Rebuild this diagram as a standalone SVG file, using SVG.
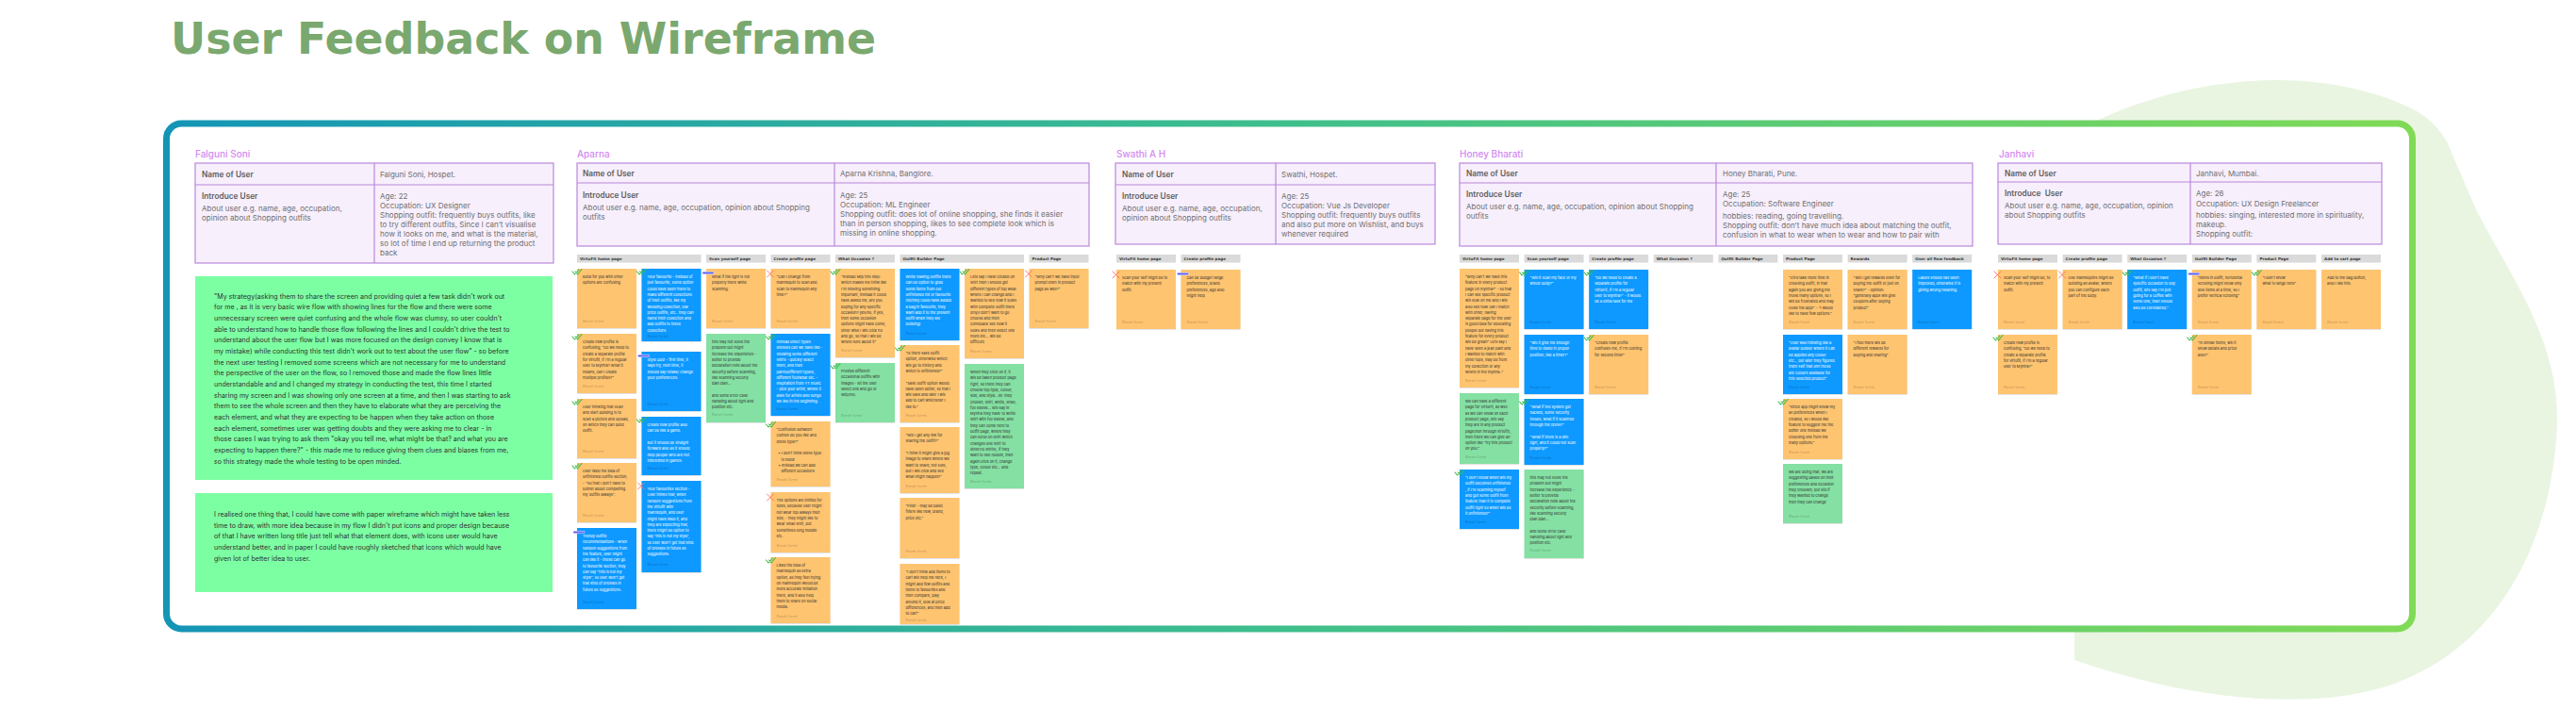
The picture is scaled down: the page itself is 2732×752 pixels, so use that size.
<svg xmlns="http://www.w3.org/2000/svg" xmlns:xlink="http://www.w3.org/1999/xlink" width="2732" height="752" viewBox="0 0 2732 752">
<defs>
<linearGradient id="fg" x1="0" y1="0" x2="1" y2="0">
<stop offset="0" stop-color="#1495b6"/>
<stop offset="0.5" stop-color="#3fbf8c"/>
<stop offset="1" stop-color="#80da56"/>
</linearGradient>
<filter id="sh" x="-10%" y="-10%" width="120%" height="120%">
<feDropShadow dx="0" dy="0.6" stdDeviation="0.7" flood-color="#000" flood-opacity="0.18"/>
</filter>
<g id="ck"><path d="M-5 3 L-2.5 6 L2 1 M-2 3 L0.5 6 L5 0.5" fill="none" stroke="#38b94a" stroke-width="1.1" stroke-linecap="round" stroke-linejoin="round"/></g>
<g id="xx"><path d="M-4 2 L3 9 M3 2 L-4 9" fill="none" stroke="#ff6a5c" stroke-width="0.9" stroke-linecap="round"/></g>
<g id="ds"><path d="M-3 4.5 L7 4.5" stroke="#cbc6ff" stroke-width="2.8" stroke-linecap="round"/><path d="M-3 4.5 L7 4.5" stroke="#5a62f0" stroke-width="1.5" stroke-linecap="round"/></g>
</defs>
<style>
.ttl{font-family:"DejaVu Sans","Liberation Sans",sans-serif;font-weight:bold;font-size:46px;fill:#7aa86e}
.lb{font-family:Inter,"Liberation Sans",sans-serif;font-size:10px;font-weight:500;fill:#d38af0}
.tbl{fill:#f7effc;stroke:#b987da;stroke-width:1.2}
.dv{stroke:#b987da;stroke-width:1.2}
.tb{font-family:Inter,"Liberation Sans",sans-serif;font-size:8px;fill:#707070}
.th{font-family:Inter,"Liberation Sans",sans-serif;font-size:8.3px;font-weight:600;fill:#5e5e5e}
.hb{fill:#dadada}
.ht{font-family:"DejaVu Sans","Liberation Sans",sans-serif;font-size:4.1px;font-weight:bold;fill:#3a3a3a}
.o{fill:#ffc470;filter:url(#sh)}
.g{fill:#85e0a3;filter:url(#sh)}
.b{fill:#0d99ff;filter:url(#sh)}
.t{font-family:Inter,"Liberation Sans",sans-serif;font-size:3.9px;fill:#2d2d2d}
.w{fill:#ffffff}
.a{font-family:Inter,"Liberation Sans",sans-serif;font-size:3.1px;fill:#000;fill-opacity:0.32}
.gn{fill:#7cffa3}
.gt{font-family:Inter,"Liberation Sans",sans-serif;font-size:7.1px;fill:#2f2f2f}
</style>

<rect width="2732" height="752" fill="#ffffff"/>
<path id="blob" d="M2200 140 C2280 95 2400 70 2500 95 C2560 110 2580 125 2595 150 L2625 220 C2660 290 2715 360 2712 450 C2708 560 2660 680 2540 725 C2440 760 2300 735 2200 700 Z" fill="#e9f5e1"/>

<text class="ttl" x="181" y="57" textLength="748" lengthAdjust="spacingAndGlyphs">User Feedback on Wireframe</text>

<rect id="frame" x="176.5" y="131" width="2382" height="536" rx="16" fill="#ffffff" stroke="url(#fg)" stroke-width="7"/>

<g id="connectors"></g>

<!-- ===== Falguni Soni ===== -->
<g id="falguni">
<text class="lb" x="207" y="166.5">Falguni Soni</text>
<rect class="tbl" x="207" y="173" width="380" height="106"/>
<line class="dv" x1="207" y1="196" x2="587" y2="196"/>
<line class="dv" x1="397" y1="173" x2="397" y2="279"/>
<text class="th" x="214" y="188">Name of User</text>
<text class="tb" x="403" y="188">Falguni Soni, Hospet.</text>
<text class="th" x="214" y="211">Introduce User</text>
<text class="tb" x="214" y="224">About user e.g. name, age, occupation,</text>
<text class="tb" x="214" y="234">opinion about Shopping outfits</text>
<text class="tb"><tspan x="403" y="211">Age: 22</tspan><tspan x="403" dy="10">Occupation: UX Designer</tspan><tspan x="403" dy="10">Shopping outfit: frequently buys outfits, like</tspan><tspan x="403" dy="10">to try different outfits, Since I can’t visualise</tspan><tspan x="403" dy="10">how it looks on me, and what is the material,</tspan><tspan x="403" dy="10">so lot of time I end up returning the product</tspan><tspan x="403" dy="10">back</tspan></text>
</g>
<g id="falguni-note1">
<rect class="gn" x="207" y="293" width="379" height="216"/>
<text class="gt"><tspan x="227" y="316.5">"My strategy(asking them to share the screen and providing quiet a few task didn't work out</tspan><tspan x="227" dy="11.67">for me , as it is very basic wire flow with showing lines for the flow and there were some</tspan><tspan x="227" dy="11.67">unnecessary screen were quiet confusing and the whole flow was clumsy, so user couldn't</tspan><tspan x="227" dy="11.67">able to understand how to handle those flow following the lines and I couldn't drive the test to</tspan><tspan x="227" dy="11.67">understand about the user flow but I was more focused on the design convey I know that is</tspan><tspan x="227" dy="11.67">my mistake) while conducting this test didn't work out to test about the user flow" - so before</tspan><tspan x="227" dy="11.67">the next user testing I removed some screens which are not necessary for me to understand</tspan><tspan x="227" dy="11.67">the perspective of the user on the flow, so I removed those and made the flow lines little</tspan><tspan x="227" dy="11.67">understandable and and I changed my strategy in conducting the test, this time I started</tspan><tspan x="227" dy="11.67">sharing my screen and I was showing only one screen at a time, and then I was starting to ask</tspan><tspan x="227" dy="11.67">them to see the whole screen and then they have to elaborate what they are perceiving the</tspan><tspan x="227" dy="11.67">each element, and what they are expecting to be happen when they take action on those</tspan><tspan x="227" dy="11.67">each element, sometimes user was getting doubts and they were asking me to clear - in</tspan><tspan x="227" dy="11.67">those cases I was trying to ask them "okay you tell me, what might be that? and what you are</tspan><tspan x="227" dy="11.67">expecting to happen there?" - this made me to reduce giving them clues and biases from me,</tspan><tspan x="227" dy="11.67">so this strategy made the whole testing to be open minded.</tspan></text>
</g>
<g id="falguni-note2">
<rect class="gn" x="207" y="523" width="379" height="105"/>
<text class="gt"><tspan x="227" y="548">I realised one thing that, I could have come with paper wireframe which might have taken less</tspan><tspan x="227" dy="11.67">time to draw, with more idea because in my flow I didn't put icons and proper design because</tspan><tspan x="227" dy="11.67">of that I have written long title just tell what that element does, with icons user would have</tspan><tspan x="227" dy="11.67">understand better, and in paper I could have roughly sketched that icons which would have</tspan><tspan x="227" dy="11.67">given lot of better idea to user.</tspan></text>
</g>

<!-- ===== Aparna ===== -->
<g id="aparna">
<text class="lb" x="612" y="166.5">Aparna</text>
<rect class="tbl" x="612" y="173" width="543" height="88"/>
<line class="dv" x1="612" y1="194" x2="1155" y2="194"/>
<line class="dv" x1="885" y1="173" x2="885" y2="261"/>
<text class="th" x="618" y="187">Name of User</text>
<text class="tb" x="891" y="187">Aparna Krishna, Banglore.</text>
<text class="th" x="618" y="210">Introduce User</text>
<text class="tb" x="618" y="223">About user e.g. name, age, occupation, opinion about Shopping</text>
<text class="tb" x="618" y="233">outfits</text>
<text class="tb"><tspan x="891" y="210">Age: 25</tspan><tspan x="891" dy="10">Occupation: ML Engineer</tspan><tspan x="891" dy="10">Shopping outfit: does lot of online shopping, she finds it easier</tspan><tspan x="891" dy="10">than in person shopping, likes to see complete look which is</tspan><tspan x="891" dy="10">missing in online shopping.</tspan></text>
</g>
<g id="aparna-headers">
<rect class="hb" x="612" y="270" width="131.5" height="8.5"/><text class="ht" x="615" y="276">VirtuFit home page</text>
<rect class="hb" x="749" y="270" width="63" height="8.5"/><text class="ht" x="752" y="276">Scan yourself page</text>
<rect class="hb" x="817.5" y="270" width="63" height="8.5"/><text class="ht" x="820.5" y="276">Create profile page</text>
<rect class="hb" x="886" y="270" width="63" height="8.5"/><text class="ht" x="889" y="276">What Occasion ?</text>
<rect class="hb" x="954.5" y="270" width="131.5" height="8.5"/><text class="ht" x="957.5" y="276">Outfit Builder Page</text>
<rect class="hb" x="1091.5" y="270" width="63" height="8.5"/><text class="ht" x="1094.5" y="276">Product Page</text>
</g>

<g id="ap-1" transform="translate(612,285)"><rect class="o" width="63" height="63"/><text class="t"><tspan x="6" y="10">Build for you with other</tspan><tspan x="6" dy="6.3">options are confusing</tspan></text><text class="a" x="6" y="57">Bharath Suresh</text><use href="#ck"/></g>
<g id="ap-2" transform="translate(612,354)"><rect class="o" width="63" height="63"/><text class="t"><tspan x="6" y="10">Create new profile is</tspan><tspan x="6" dy="6.3">confusing, "Do we need to</tspan><tspan x="6" dy="6.3">create a separate profile</tspan><tspan x="6" dy="6.3">for virtufit, If I'm a regular</tspan><tspan x="6" dy="6.3">user to Myntra? What it</tspan><tspan x="6" dy="6.3">means, can I create</tspan><tspan x="6" dy="6.3">multiple profiles?"</tspan></text><text class="a" x="6" y="57">Bharath Suresh</text><use href="#ck"/></g>
<g id="ap-3" transform="translate(612,423)"><rect class="o" width="63" height="63"/><text class="t"><tspan x="6" y="10">User thinking that Scan</tspan><tspan x="6" dy="6.3">and start building is to</tspan><tspan x="6" dy="6.3">scan a picture and upload,</tspan><tspan x="6" dy="6.3">on which they can build</tspan><tspan x="6" dy="6.3">outfit.</tspan></text><text class="a" x="6" y="57">Bharath Suresh</text><use href="#ck"/></g>
<g id="ap-4" transform="translate(612,491)"><rect class="o" width="63" height="63"/><text class="t"><tspan x="6" y="10">User liked the idea of</tspan><tspan x="6" dy="6.3">unfinished outfits section,</tspan><tspan x="6" dy="6.3">- "So that I don't have to</tspan><tspan x="6" dy="6.3">bother about completing</tspan><tspan x="6" dy="6.3">my outfits always".</tspan></text><text class="a" x="6" y="57">Bharath Suresh</text><use href="#ck"/></g>
<g id="ap-5" transform="translate(612,560)"><rect class="b" width="63" height="86"/><text class="t w"><tspan x="6" y="10">Trendy outfits</tspan><tspan x="6" dy="6.3">recommendations - when</tspan><tspan x="6" dy="6.3">random suggestions from</tspan><tspan x="6" dy="6.3">the feature, user might</tspan><tspan x="6" dy="6.3">can like it - these can go</tspan><tspan x="6" dy="6.3">to favourite section, they</tspan><tspan x="6" dy="6.3">can say "this is not my</tspan><tspan x="6" dy="6.3">style", so user won't get</tspan><tspan x="6" dy="6.3">that kind of dresses in</tspan><tspan x="6" dy="6.3">future as suggestions.</tspan></text><text class="a" x="6" y="80">Bharath Suresh</text><use href="#ds"/></g>

<g id="ap-6" transform="translate(680.5,285)"><rect class="b" width="63" height="77"/><text class="t w"><tspan x="6" y="10">Your favourite - instead of</tspan><tspan x="6" dy="6.3">just favourite, some option</tspan><tspan x="6" dy="6.3">could have been there to</tspan><tspan x="6" dy="6.3">make different collections</tspan><tspan x="6" dy="6.3">of their outfits, like my</tspan><tspan x="6" dy="6.3">wedding collection, low</tspan><tspan x="6" dy="6.3">price outfits, etc.. they can</tspan><tspan x="6" dy="6.3">name their collection and</tspan><tspan x="6" dy="6.3">add outfits to these</tspan><tspan x="6" dy="6.3">collections</tspan></text><text class="a" x="6" y="73">Bharath Suresh</text><use href="#ck"/></g>
<g id="ap-7" transform="translate(680.5,373)"><rect class="b" width="63" height="63"/><text class="t w"><tspan x="6" y="10">Style Quiz - first time, it</tspan><tspan x="6" dy="6.3">says try, next time, it</tspan><tspan x="6" dy="6.3">should say retake/ change</tspan><tspan x="6" dy="6.3">your preferences.</tspan></text><text class="a" x="6" y="57">Bharath Suresh</text><use href="#ds"/></g>
<g id="ap-8" transform="translate(680.5,442)"><rect class="b" width="63" height="62"/><text class="t w"><tspan x="6" y="10">Create new profile also</tspan><tspan x="6" dy="6.3">can be like a game.</tspan><tspan x="6" dy="12.6">But it should be straight</tspan><tspan x="6" dy="6.3">forward also as it should</tspan><tspan x="6" dy="6.3">help people who are not</tspan><tspan x="6" dy="6.3">interested in games.</tspan></text><text class="a" x="6" y="56">Bharath Suresh</text><use href="#ck"/></g>
<g id="ap-9" transform="translate(680.5,510)"><rect class="b" width="63" height="97"/><text class="t w"><tspan x="6" y="10">Your favourites section -</tspan><tspan x="6" dy="6.3">User thinks that, when</tspan><tspan x="6" dy="6.3">random suggestions from</tspan><tspan x="6" dy="6.3">the virtufit with</tspan><tspan x="6" dy="6.3">mannequin, and user</tspan><tspan x="6" dy="6.3">might have liked it, and</tspan><tspan x="6" dy="6.3">they are expecting that,</tspan><tspan x="6" dy="6.3">there might be option to</tspan><tspan x="6" dy="6.3">say 'this is not my style',</tspan><tspan x="6" dy="6.3">so user won't get that kind</tspan><tspan x="6" dy="6.3">of dresses in future as</tspan><tspan x="6" dy="6.3">suggestions.</tspan></text><text class="a" x="6" y="90">Bharath Suresh</text><use href="#xx"/></g>

<g id="ap-10" transform="translate(749,285)"><rect class="o" width="63" height="63"/><text class="t"><tspan x="6" y="10">What if the light is not</tspan><tspan x="6" dy="6.3">properly there while</tspan><tspan x="6" dy="6.3">scanning.</tspan></text><text class="a" x="6" y="57">Bharath Suresh</text><use href="#ds"/></g>
<g id="ap-11" transform="translate(749,354)"><rect class="g" width="63" height="94"/><text class="t"><tspan x="6" y="10">this may not solve the</tspan><tspan x="6" dy="6.3">problem but might</tspan><tspan x="6" dy="6.3">increase the experience -</tspan><tspan x="6" dy="6.3">Better to provide</tspan><tspan x="6" dy="6.3">declaration note about the</tspan><tspan x="6" dy="6.3">security before scanning,</tspan><tspan x="6" dy="6.3">like scanning securly</tspan><tspan x="6" dy="6.3">bian bian...</tspan><tspan x="6" dy="12.6">and some error case</tspan><tspan x="6" dy="6.3">handling about light and</tspan><tspan x="6" dy="6.3">position etc.</tspan></text><text class="a" x="6" y="87">Bharath Suresh</text></g>

<g id="ap-12" transform="translate(817.5,285)"><rect class="o" width="63" height="63"/><text class="t"><tspan x="6" y="10">"Can I change from</tspan><tspan x="6" dy="6.3">mannequin to scan and</tspan><tspan x="6" dy="6.3">scan to mannequin any</tspan><tspan x="6" dy="6.3">time?"</tspan></text><text class="a" x="6" y="57">Bharath Suresh</text><use href="#xx"/></g>
<g id="ap-13" transform="translate(817.5,354)"><rect class="b" width="63" height="87"/><text class="t w"><tspan x="6" y="10">Instead direct types</tspan><tspan x="6" dy="6.3">dresses can we have like -</tspan><tspan x="6" dy="6.3">showing some different</tspan><tspan x="6" dy="6.3">shirts - quickly select</tspan><tspan x="6" dy="6.3">them, and then</tspan><tspan x="6" dy="6.3">pants(different types),</tspan><tspan x="6" dy="6.3">different footwear etc. -</tspan><tspan x="6" dy="6.3">Inspiration from YT music</tspan><tspan x="6" dy="6.3">- pick your artist, where it</tspan><tspan x="6" dy="6.3">asks for artists and songs</tspan><tspan x="6" dy="6.3">we like in the beginning.</tspan></text><text class="a" x="6" y="81">Bharath Suresh</text><use href="#ck"/></g>
<g id="ap-14" transform="translate(817.5,447)"><rect class="o" width="63" height="69"/><text class="t"><tspan x="6" y="10">"Confusion between</tspan><tspan x="6" dy="6.3">clothes do you like and</tspan><tspan x="6" dy="6.3">dress type?"</tspan><tspan x="8" dy="12.6">•  I don't think dress type</tspan><tspan x="11" dy="6.3">is need!</tspan><tspan x="8" dy="6.3">•  Instead we can add</tspan><tspan x="11" dy="6.3">different occasions</tspan></text><text class="a" x="6" y="63">Bharath Suresh</text><use href="#ck"/></g>
<g id="ap-15" transform="translate(817.5,522)"><rect class="o" width="63" height="64"/><text class="t"><tspan x="6" y="10">The options are limited for</tspan><tspan x="6" dy="6.3">sizes, because user might</tspan><tspan x="6" dy="6.3">not wear top always their</tspan><tspan x="6" dy="6.3">size, - they might like to</tspan><tspan x="6" dy="6.3">wear small shirt, but</tspan><tspan x="6" dy="6.3">sometimes long hoddie</tspan><tspan x="6" dy="6.3">etc.</tspan></text><text class="a" x="6" y="58">Bharath Suresh</text><use href="#xx"/></g>
<g id="ap-16" transform="translate(817.5,591)"><rect class="o" width="63" height="70"/><text class="t"><tspan x="6" y="10">Liked the idea of</tspan><tspan x="6" dy="6.3">mannequin as extra</tspan><tspan x="6" dy="6.3">option, as they feel trying</tspan><tspan x="6" dy="6.3">on mannequin would be</tspan><tspan x="6" dy="6.3">more accurate imitation</tspan><tspan x="6" dy="6.3">there, and it also help</tspan><tspan x="6" dy="6.3">them to share on social</tspan><tspan x="6" dy="6.3">media.</tspan></text><text class="a" x="6" y="64">Bharath Suresh</text><use href="#ck"/></g>

<g id="ap-17" transform="translate(886,285)"><rect class="o" width="63" height="94"/><text class="t"><tspan x="6" y="10">"Instead skip this step-</tspan><tspan x="6" dy="6.3">which makes me think like</tspan><tspan x="6" dy="6.3">I'm missing something</tspan><tspan x="6" dy="6.3">important, instead it could</tspan><tspan x="6" dy="6.3">have asked me, are you</tspan><tspan x="6" dy="6.3">buying for any specific</tspan><tspan x="6" dy="6.3">occasion? yes/no, if yes,</tspan><tspan x="6" dy="6.3">then some occasion</tspan><tspan x="6" dy="6.3">options might have come,</tspan><tspan x="6" dy="6.3">other wise I will click no</tspan><tspan x="6" dy="6.3">and go, so that I will be</tspan><tspan x="6" dy="6.3">where sure about it"</tspan></text><text class="a" x="6" y="88">Bharath Suresh</text><use href="#ck"/></g>
<g id="ap-18" transform="translate(886,385)"><rect class="g" width="63" height="63"/><text class="t"><tspan x="6" y="10">Provide different</tspan><tspan x="6" dy="6.3">occasional outfits with</tspan><tspan x="6" dy="6.3">images - let the user</tspan><tspan x="6" dy="6.3">select one and go or</tspan><tspan x="6" dy="6.3">skip(no).</tspan></text><text class="a" x="6" y="57">Bharath Suresh</text><use href="#ck"/></g>

<g id="ap-19" transform="translate(954.5,285)"><rect class="b" width="63" height="76"/><text class="t w"><tspan x="6" y="10">While making outfits there</tspan><tspan x="6" dy="6.3">can be option to grab</tspan><tspan x="6" dy="6.3">some items from our</tspan><tspan x="6" dy="6.3">unfinished list or favourite</tspan><tspan x="6" dy="6.3">list(they could have added</tspan><tspan x="6" dy="6.3">a bag in favourite, they</tspan><tspan x="6" dy="6.3">want add it to the present</tspan><tspan x="6" dy="6.3">outfit when they are</tspan><tspan x="6" dy="6.3">building)</tspan></text><text class="a" x="6" y="70">Bharath Suresh</text></g>
<g id="ap-20" transform="translate(954.5,366)"><rect class="o" width="63" height="82"/><text class="t"><tspan x="6" y="10">"Is there save outfit</tspan><tspan x="6" dy="6.3">option, otherwise which</tspan><tspan x="6" dy="6.3">will go to history and</tspan><tspan x="6" dy="6.3">which is unfinished?"</tspan><tspan x="6" dy="12.6">"Save outfit option would</tspan><tspan x="6" dy="6.3">have been better, so that I</tspan><tspan x="6" dy="6.3">will save and later I will</tspan><tspan x="6" dy="6.3">add to cart whichever I</tspan><tspan x="6" dy="6.3">like to."</tspan></text><text class="a" x="6" y="76">Bharath Suresh</text><use href="#ck"/></g>
<g id="ap-21" transform="translate(954.5,453)"><rect class="o" width="63" height="70"/><text class="t"><tspan x="6" y="10">"Will I get any link for</tspan><tspan x="6" dy="6.3">sharing the outfit?"</tspan><tspan x="6" dy="12.6">"I think it might give a jpg</tspan><tspan x="6" dy="6.3">image to share where we</tspan><tspan x="6" dy="6.3">want to share, not sure,</tspan><tspan x="6" dy="6.3">but I will click and see</tspan><tspan x="6" dy="6.3">what might happen!"</tspan></text><text class="a" x="6" y="64">Bharath Suresh</text></g>
<g id="ap-22" transform="translate(954.5,528)"><rect class="o" width="63" height="64"/><text class="t"><tspan x="6" y="10">"Filter - may be basic</tspan><tspan x="6" dy="6.3">filters like new, brand,</tspan><tspan x="6" dy="6.3">price etc."</tspan></text><text class="a" x="6" y="58">Bharath Suresh</text></g>
<g id="ap-23" transform="translate(954.5,598)"><rect class="o" width="63" height="64"/><text class="t"><tspan x="6" y="10">"I don't think add items to</tspan><tspan x="6" dy="6.3">cart will help me here, I</tspan><tspan x="6" dy="6.3">might add few outfits and</tspan><tspan x="6" dy="6.3">items to favourites and</tspan><tspan x="6" dy="6.3">then compare, play</tspan><tspan x="6" dy="6.3">around it, look at price</tspan><tspan x="6" dy="6.3">differences, and then add</tspan><tspan x="6" dy="6.3">to cart"</tspan></text><text class="a" x="6" y="60.5">Bharath Suresh</text></g>

<g id="ap-24" transform="translate(1023,285)"><rect class="o" width="63" height="95"/><text class="t"><tspan x="6" y="10">Lets say I have clicked on</tspan><tspan x="6" dy="6.3">shirt then I should get</tspan><tspan x="6" dy="6.3">different types of top wear</tspan><tspan x="6" dy="6.3">where I can change and I</tspan><tspan x="6" dy="6.3">wanted to see how it looks</tspan><tspan x="6" dy="6.3">with complete outfit there</tspan><tspan x="6" dy="6.3">only(I don't want to go</tspan><tspan x="6" dy="6.3">choose and then</tspan><tspan x="6" dy="6.3">comeback see how it</tspan><tspan x="6" dy="6.3">looks and then select one</tspan><tspan x="6" dy="6.3">more etc... will be</tspan><tspan x="6" dy="6.3">difficult)</tspan></text><text class="a" x="6" y="89">Bharath Suresh</text><use href="#ck"/></g>
<g id="ap-25" transform="translate(1023,386)"><rect class="g" width="63" height="132"/><text class="t"><tspan x="6" y="10">When they click on it, it</tspan><tspan x="6" dy="6.3">will be taken product page</tspan><tspan x="6" dy="6.3">right, so there they can</tspan><tspan x="6" dy="6.3">choose top type, colour,</tspan><tspan x="6" dy="6.3">size, and style.. ex: they</tspan><tspan x="6" dy="6.3">chosen, shirt, white, small,</tspan><tspan x="6" dy="6.3">full sleeve... lets say in</tspan><tspan x="6" dy="6.3">Myntra they have 10 white</tspan><tspan x="6" dy="6.3">shirt with full sleeve, and</tspan><tspan x="6" dy="6.3">they can come here to</tspan><tspan x="6" dy="6.3">outfit page, where they</tspan><tspan x="6" dy="6.3">can scroll on shirt which</tspan><tspan x="6" dy="6.3">changes one shirt to</tspan><tspan x="6" dy="6.3">other(10 shirts), if they</tspan><tspan x="6" dy="6.3">want to see hoodie, then</tspan><tspan x="6" dy="6.3">again click on it, change</tspan><tspan x="6" dy="6.3">type, colour etc... and</tspan><tspan x="6" dy="6.3">repeat.</tspan></text><text class="a" x="6" y="126">Bharath Suresh</text></g>

<g id="ap-26" transform="translate(1091.5,285)"><rect class="o" width="63" height="63"/><text class="t"><tspan x="6" y="10">"Why can't we have input</tspan><tspan x="6" dy="6.3">prompt even in product</tspan><tspan x="6" dy="6.3">page as well?"</tspan></text><text class="a" x="6" y="57">Bharath Suresh</text><use href="#xx"/></g>

<!-- ===== Swathi ===== -->
<g id="swathi">
<text class="lb" x="1184" y="166.5">Swathi A H</text>
<rect class="tbl" x="1183" y="173" width="339" height="86"/>
<line class="dv" x1="1183" y1="196" x2="1522" y2="196"/>
<line class="dv" x1="1353" y1="173" x2="1353" y2="259"/>
<text class="th" x="1190" y="188">Name of User</text>
<text class="tb" x="1359" y="188">Swathi, Hospet.</text>
<text class="th" x="1190" y="211">Introduce User</text>
<text class="tb" x="1190" y="224">About user e.g. name, age, occupation,</text>
<text class="tb" x="1190" y="234">opinion about Shopping outfits</text>
<text class="tb"><tspan x="1359" y="211">Age: 25</tspan><tspan x="1359" dy="10">Occupation: Vue Js Developer</tspan><tspan x="1359" dy="10">Shopping outfit: frequently buys outfits</tspan><tspan x="1359" dy="10">and also put more on Wishlist, and buys</tspan><tspan x="1359" dy="10">whenever required</tspan></text>
</g>
<g id="swathi-headers">
<rect class="hb" x="1184" y="270" width="63" height="8.5"/><text class="ht" x="1187" y="276">VirtuFit home page</text>
<rect class="hb" x="1252.5" y="270" width="63" height="8.5"/><text class="ht" x="1255.5" y="276">Create profile page</text>
</g>
<g id="sw-1" transform="translate(1184,286)"><rect class="o" width="63" height="63"/><text class="t"><tspan x="6" y="10">Scan your self might be to</tspan><tspan x="6" dy="6.3">match with my present</tspan><tspan x="6" dy="6.3">outfit.</tspan></text><text class="a" x="6" y="57">Bharath Suresh</text><use href="#xx"/></g>
<g id="sw-2" transform="translate(1252.5,286)"><rect class="o" width="63" height="63"/><text class="t"><tspan x="6" y="10">Can be budget range</tspan><tspan x="6" dy="6.3">preferences, brand</tspan><tspan x="6" dy="6.3">preferences, age also</tspan><tspan x="6" dy="6.3">might help</tspan></text><text class="a" x="6" y="57">Bharath Suresh</text><use href="#ds"/></g>

<!-- ===== Honey Bharati ===== -->
<g id="honey">
<text class="lb" x="1548" y="166.5">Honey Bharati</text>
<rect class="tbl" x="1548" y="173" width="544" height="88"/>
<line class="dv" x1="1548" y1="194" x2="2092" y2="194"/>
<line class="dv" x1="1820" y1="173" x2="1820" y2="261"/>
<text class="th" x="1555" y="187">Name of User</text>
<text class="tb" x="1827" y="187">Honey Bharati, Pune.</text>
<text class="th" x="1555" y="209">Introduce User</text>
<text class="tb" x="1555" y="222">About user e.g. name, age, occupation, opinion about Shopping</text>
<text class="tb" x="1555" y="232">outfits</text>
<text class="tb"><tspan x="1827" y="209">Age: 25</tspan><tspan x="1827" dy="10">Occupation: Software Engineer</tspan><tspan x="1827" dy="12.5">hobbies: reading, going travelling.</tspan><tspan x="1827" dy="10">Shopping outfit: don’t have much idea about matching the outfit,</tspan><tspan x="1827" dy="10">confusion in what to wear when to wear and how to pair with</tspan></text>
</g>
<g id="honey-headers">
<rect class="hb" x="1548" y="270" width="63" height="8.5"/><text class="ht" x="1551" y="276">VirtuFit home page</text>
<rect class="hb" x="1616.6" y="270" width="63" height="8.5"/><text class="ht" x="1619.6" y="276">Scan yourself page</text>
<rect class="hb" x="1685.2" y="270" width="63" height="8.5"/><text class="ht" x="1688.2" y="276">Create profile page</text>
<rect class="hb" x="1753.8" y="270" width="63" height="8.5"/><text class="ht" x="1756.8" y="276">What Occasion ?</text>
<rect class="hb" x="1822.4" y="270" width="63" height="8.5"/><text class="ht" x="1825.4" y="276">Outfit Builder Page</text>
<rect class="hb" x="1891" y="270" width="63" height="8.5"/><text class="ht" x="1894" y="276">Product Page</text>
<rect class="hb" x="1959.6" y="270" width="63" height="8.5"/><text class="ht" x="1962.6" y="276">Rewards</text>
<rect class="hb" x="2028.2" y="270" width="63" height="8.5"/><text class="ht" x="2031.2" y="276">Over all flow feedback</text>
</g>

<g id="ho-1" transform="translate(1548,285)"><rect class="o" width="63" height="126"/><text class="t"><tspan x="6" y="10">"Why can't we have this</tspan><tspan x="6" dy="6.3">feature in every product</tspan><tspan x="6" dy="6.3">page on myntra?" - so that</tspan><tspan x="6" dy="6.3">I can see specific product</tspan><tspan x="6" dy="6.3">will look on me and I will</tspan><tspan x="6" dy="6.3">also see how can I match</tspan><tspan x="6" dy="6.3">with other, having</tspan><tspan x="6" dy="6.3">separate page for the user</tspan><tspan x="6" dy="6.3">is good idea for educating</tspan><tspan x="6" dy="6.3">people but having this</tspan><tspan x="6" dy="6.3">feature for every product</tspan><tspan x="6" dy="6.3">will be great!" Lets say I</tspan><tspan x="6" dy="6.3">have seen a jean pant and</tspan><tspan x="6" dy="6.3">I wanted to match with</tspan><tspan x="6" dy="6.3">other tops, may be from</tspan><tspan x="6" dy="6.3">my collection or any</tspan><tspan x="6" dy="6.3">where in the myntra.."</tspan></text><text class="a" x="6" y="120">Bharath Suresh</text></g>
<g id="ho-2" transform="translate(1548,417)"><rect class="g" width="63" height="75"/><text class="t"><tspan x="6" y="10">We can have a different</tspan><tspan x="6" dy="6.3">page for VirtuFit, as well</tspan><tspan x="6" dy="6.3">as we can show on each</tspan><tspan x="6" dy="6.3">product page, lets say</tspan><tspan x="6" dy="6.3">they are in any product</tspan><tspan x="6" dy="6.3">page(non through virtufit),</tspan><tspan x="6" dy="6.3">then there we can give an</tspan><tspan x="6" dy="6.3">option like "try this product</tspan><tspan x="6" dy="6.3">on you."</tspan></text><text class="a" x="6" y="69">Bharath Suresh</text></g>
<g id="ho-3" transform="translate(1548,498)"><rect class="b" width="63" height="63"/><text class="t w"><tspan x="6" y="10">"I don't know when will my</tspan><tspan x="6" dy="6.3">outfit becomes unfinished</tspan><tspan x="6" dy="6.3">, If I'm scanning myself</tspan><tspan x="6" dy="6.3">and got some outfit from</tspan><tspan x="6" dy="6.3">feature than it is complete</tspan><tspan x="6" dy="6.3">outfit right so when will be</tspan><tspan x="6" dy="6.3">it unfinished?"</tspan></text><text class="a" x="6" y="57">Bharath Suresh</text><use href="#ck"/></g>

<g id="ho-4" transform="translate(1616.6,286)"><rect class="b" width="63" height="63"/><text class="t w"><tspan x="6" y="10">"Will it scan my face or my</tspan><tspan x="6" dy="6.3">whole body?"</tspan></text><text class="a" x="6" y="57">Bharath Suresh</text><use href="#ck"/></g>
<g id="ho-5" transform="translate(1616.6,355)"><rect class="b" width="63" height="63"/><text class="t w"><tspan x="6" y="10">"will it give me enough</tspan><tspan x="6" dy="6.3">time to stand in proper</tspan><tspan x="6" dy="6.3">position, like a timer?"</tspan></text><text class="a" x="6" y="57">Bharath Suresh</text></g>
<g id="ho-6" transform="translate(1616.6,423)"><rect class="b" width="63" height="70"/><text class="t w"><tspan x="6" y="10">"What if the system get</tspan><tspan x="6" dy="6.3">hacked, some security</tspan><tspan x="6" dy="6.3">issues, what if it scanned</tspan><tspan x="6" dy="6.3">through the dress?"</tspan><tspan x="6" dy="12.6">"What if there is a dim</tspan><tspan x="6" dy="6.3">light, and it could not scan</tspan><tspan x="6" dy="6.3">properly?"</tspan></text><text class="a" x="6" y="64">Bharath Suresh</text><use href="#ck"/></g>
<g id="ho-7" transform="translate(1616.6,498)"><rect class="g" width="63" height="94"/><text class="t"><tspan x="6" y="10">this may not solve the</tspan><tspan x="6" dy="6.3">problem but might</tspan><tspan x="6" dy="6.3">increase the experience -</tspan><tspan x="6" dy="6.3">Better to provide</tspan><tspan x="6" dy="6.3">declaration note about the</tspan><tspan x="6" dy="6.3">security before scanning,</tspan><tspan x="6" dy="6.3">like scanning securly</tspan><tspan x="6" dy="6.3">bian bian...</tspan><tspan x="6" dy="12.6">and some error case</tspan><tspan x="6" dy="6.3">handling about light and</tspan><tspan x="6" dy="6.3">position etc.</tspan></text><text class="a" x="6" y="87">Bharath Suresh</text></g>

<g id="ho-8" transform="translate(1685.2,286)"><rect class="b" width="63" height="63"/><text class="t w"><tspan x="6" y="10">"Do we need to create a</tspan><tspan x="6" dy="6.3">separate profile for</tspan><tspan x="6" dy="6.3">VirtuFit, If I'm a regular</tspan><tspan x="6" dy="6.3">user to Myntra?" - it would</tspan><tspan x="6" dy="6.3">be a extra task for me</tspan></text><text class="a" x="6" y="57">Bharath Suresh</text><use href="#ck"/></g>
<g id="ho-9" transform="translate(1685.2,355)"><rect class="o" width="63" height="63"/><text class="t"><tspan x="6" y="10">"Create new profile</tspan><tspan x="6" dy="6.3">confuses me, If I'm coming</tspan><tspan x="6" dy="6.3">for second time!"</tspan></text><text class="a" x="6" y="57">Bharath Suresh</text><use href="#ck"/></g>

<g id="ho-10" transform="translate(1891,286)"><rect class="o" width="63" height="63"/><text class="t"><tspan x="6" y="10">"Girls take more time in</tspan><tspan x="6" dy="6.3">choosing outfit, in that</tspan><tspan x="6" dy="6.3">again you are giving me</tspan><tspan x="6" dy="6.3">those many options, so I</tspan><tspan x="6" dy="6.3">will be frustrated and may</tspan><tspan x="6" dy="6.3">close the app!" - "I would</tspan><tspan x="6" dy="6.3">like to have few options."</tspan></text><text class="a" x="6" y="57">Bharath Suresh</text></g>
<g id="ho-11" transform="translate(1891,355)"><rect class="b" width="63" height="63"/><text class="t w"><tspan x="6" y="10">"User was thinking like a</tspan><tspan x="6" dy="6.3">avatar builder where it can</tspan><tspan x="6" dy="6.3">be applied any colour</tspan><tspan x="6" dy="6.3">etc.., but later they figured</tspan><tspan x="6" dy="6.3">them self that ohh those</tspan><tspan x="6" dy="6.3">are colours available for</tspan><tspan x="6" dy="6.3">this selected product"</tspan></text><text class="a" x="6" y="57">Bharath Suresh</text></g>
<g id="ho-12" transform="translate(1891,423)"><rect class="o" width="63" height="64"/><text class="t"><tspan x="6" y="10">"Since app might know my</tspan><tspan x="6" dy="6.3">all preferences when I</tspan><tspan x="6" dy="6.3">created, so I would like</tspan><tspan x="6" dy="6.3">feature to suggest me the</tspan><tspan x="6" dy="6.3">better one instead we</tspan><tspan x="6" dy="6.3">choosing one from the</tspan><tspan x="6" dy="6.3">many options."</tspan></text><text class="a" x="6" y="58">Bharath Suresh</text><use href="#ck"/></g>
<g id="ho-13" transform="translate(1891,492)"><rect class="g" width="63" height="63"/><text class="t"><tspan x="6" y="10">We are doing that, we are</tspan><tspan x="6" dy="6.3">suggesting based on their</tspan><tspan x="6" dy="6.3">preferences and occasion</tspan><tspan x="6" dy="6.3">they choosen, but still if</tspan><tspan x="6" dy="6.3">they wanted to change</tspan><tspan x="6" dy="6.3">then they can change</tspan></text><text class="a" x="6" y="57">Bharath Suresh</text></g>

<g id="ho-14" transform="translate(1959.6,286)"><rect class="o" width="63" height="63"/><text class="t"><tspan x="6" y="10">"Will I get rewards even for</tspan><tspan x="6" dy="6.3">buying the outfit or just on</tspan><tspan x="6" dy="6.3">share?" - opinion:</tspan><tspan x="6" dy="6.3">"generally apps will give</tspan><tspan x="6" dy="6.3">coupons after buying</tspan><tspan x="6" dy="6.3">product"</tspan></text><text class="a" x="6" y="57">Bharath Suresh</text></g>
<g id="ho-15" transform="translate(1959.6,355)"><rect class="o" width="63" height="63"/><text class="t"><tspan x="6" y="10">"I feel there will be</tspan><tspan x="6" dy="6.3">different rewards for</tspan><tspan x="6" dy="6.3">buying and sharing"</tspan></text><text class="a" x="6" y="57">Bharath Suresh</text></g>

<g id="ho-16" transform="translate(2028.2,286)"><rect class="b" width="63" height="63"/><text class="t w"><tspan x="6" y="10">Labels should hav been</tspan><tspan x="6" dy="6.3">improved, otherwise it is</tspan><tspan x="6" dy="6.3">giving wrong meaning.</tspan></text><text class="a" x="6" y="57">Bharath Suresh</text></g>

<!-- ===== Janhavi ===== -->
<g id="janhavi">
<text class="lb" x="2120" y="166.5">Janhavi</text>
<rect class="tbl" x="2119" y="173" width="407" height="86"/>
<line class="dv" x1="2119" y1="193" x2="2526" y2="193"/>
<line class="dv" x1="2323" y1="173" x2="2323" y2="259"/>
<text class="th" x="2126" y="187">Name of User</text>
<text class="tb" x="2329" y="187">Janhavi, Mumbai.</text>
<text class="th" x="2126" y="208" xml:space="preserve">Introduce  User</text>
<text class="tb" x="2126" y="221">About user e.g. name, age, occupation, opinion</text>
<text class="tb" x="2126" y="231">about Shopping outfits</text>
<text class="tb"><tspan x="2329" y="208">Age: 26</tspan><tspan x="2329" dy="10.5">Occupation: UX Design Freelancer</tspan><tspan x="2329" dy="12.5">hobbies: singing, interested more in spirituality,</tspan><tspan x="2329" dy="9.5">makeup.</tspan><tspan x="2329" dy="10">Shopping outfit:</tspan></text>
</g>
<g id="janhavi-headers">
<rect class="hb" x="2119" y="270" width="63" height="8.5"/><text class="ht" x="2122" y="276">VirtuFit home page</text>
<rect class="hb" x="2187.6" y="270" width="63" height="8.5"/><text class="ht" x="2190.6" y="276">Create profile page</text>
<rect class="hb" x="2256.2" y="270" width="63" height="8.5"/><text class="ht" x="2259.2" y="276">What Occasion ?</text>
<rect class="hb" x="2324.8" y="270" width="63" height="8.5"/><text class="ht" x="2327.8" y="276">Outfit Builder Page</text>
<rect class="hb" x="2393.4" y="270" width="63" height="8.5"/><text class="ht" x="2396.4" y="276">Product Page</text>
<rect class="hb" x="2462" y="270" width="63" height="8.5"/><text class="ht" x="2465" y="276">Add to cart page</text>
</g>
<g id="ja-1" transform="translate(2119,286)"><rect class="o" width="63" height="63"/><text class="t"><tspan x="6" y="10">Scan your self might be, to</tspan><tspan x="6" dy="6.3">match with my present</tspan><tspan x="6" dy="6.3">outfit.</tspan></text><text class="a" x="6" y="57">Bharath Suresh</text><use href="#xx"/></g>
<g id="ja-2" transform="translate(2119,355)"><rect class="o" width="63" height="63"/><text class="t"><tspan x="6" y="10">Create new profile is</tspan><tspan x="6" dy="6.3">confusing, "Do we need to</tspan><tspan x="6" dy="6.3">create a separate profile</tspan><tspan x="6" dy="6.3">for virtufit, If I'm a regular</tspan><tspan x="6" dy="6.3">user to Myntra?"</tspan></text><text class="a" x="6" y="57">Bharath Suresh</text><use href="#ck"/></g>
<g id="ja-3" transform="translate(2187.6,286)"><rect class="o" width="63" height="63"/><text class="t"><tspan x="6" y="10">Use mannequins might be</tspan><tspan x="6" dy="6.3">building an avatar, where</tspan><tspan x="6" dy="6.3">you can configure each</tspan><tspan x="6" dy="6.3">part of the body.</tspan></text><text class="a" x="6" y="57">Bharath Suresh</text><use href="#xx"/></g>
<g id="ja-4" transform="translate(2256.2,286)"><rect class="b" width="63" height="63"/><text class="t w"><tspan x="6" y="10">"What if I don't have</tspan><tspan x="6" dy="6.3">specific occasion to buy</tspan><tspan x="6" dy="6.3">outfit, lets say I'm just</tspan><tspan x="6" dy="6.3">going for a coffee with</tspan><tspan x="6" dy="6.3">some one, than should</tspan><tspan x="6" dy="6.3">also be considered."</tspan></text><text class="a" x="6" y="57">Bharath Suresh</text><use href="#ck"/></g>
<g id="ja-5" transform="translate(2324.8,286)"><rect class="o" width="63" height="63"/><text class="t"><tspan x="6" y="10">"Items in outfit, horizontal</tspan><tspan x="6" dy="6.3">scrolling might show only</tspan><tspan x="6" dy="6.3">less items at a time, so I</tspan><tspan x="6" dy="6.3">prefer vertical scrolling"</tspan></text><text class="a" x="6" y="57">Bharath Suresh</text><use href="#ds"/></g>
<g id="ja-6" transform="translate(2324.8,355)"><rect class="o" width="63" height="63"/><text class="t"><tspan x="6" y="10">"In similar items, will it</tspan><tspan x="6" dy="6.3">show details and price</tspan><tspan x="6" dy="6.3">also?"</tspan></text><text class="a" x="6" y="57">Bharath Suresh</text><use href="#ck"/></g>
<g id="ja-7" transform="translate(2393.4,286)"><rect class="o" width="63" height="63"/><text class="t"><tspan x="6" y="10">"I don't know</tspan><tspan x="6" dy="6.3">what is range here"</tspan></text><text class="a" x="6" y="57">Bharath Suresh</text><use href="#ck"/></g>
<g id="ja-8" transform="translate(2462,286)"><rect class="o" width="63" height="63"/><text class="t"><tspan x="6" y="10">Add to the bag button,</tspan><tspan x="6" dy="6.3">also I like this.</tspan></text><text class="a" x="6" y="57">Bharath Suresh</text></g>
</svg>
